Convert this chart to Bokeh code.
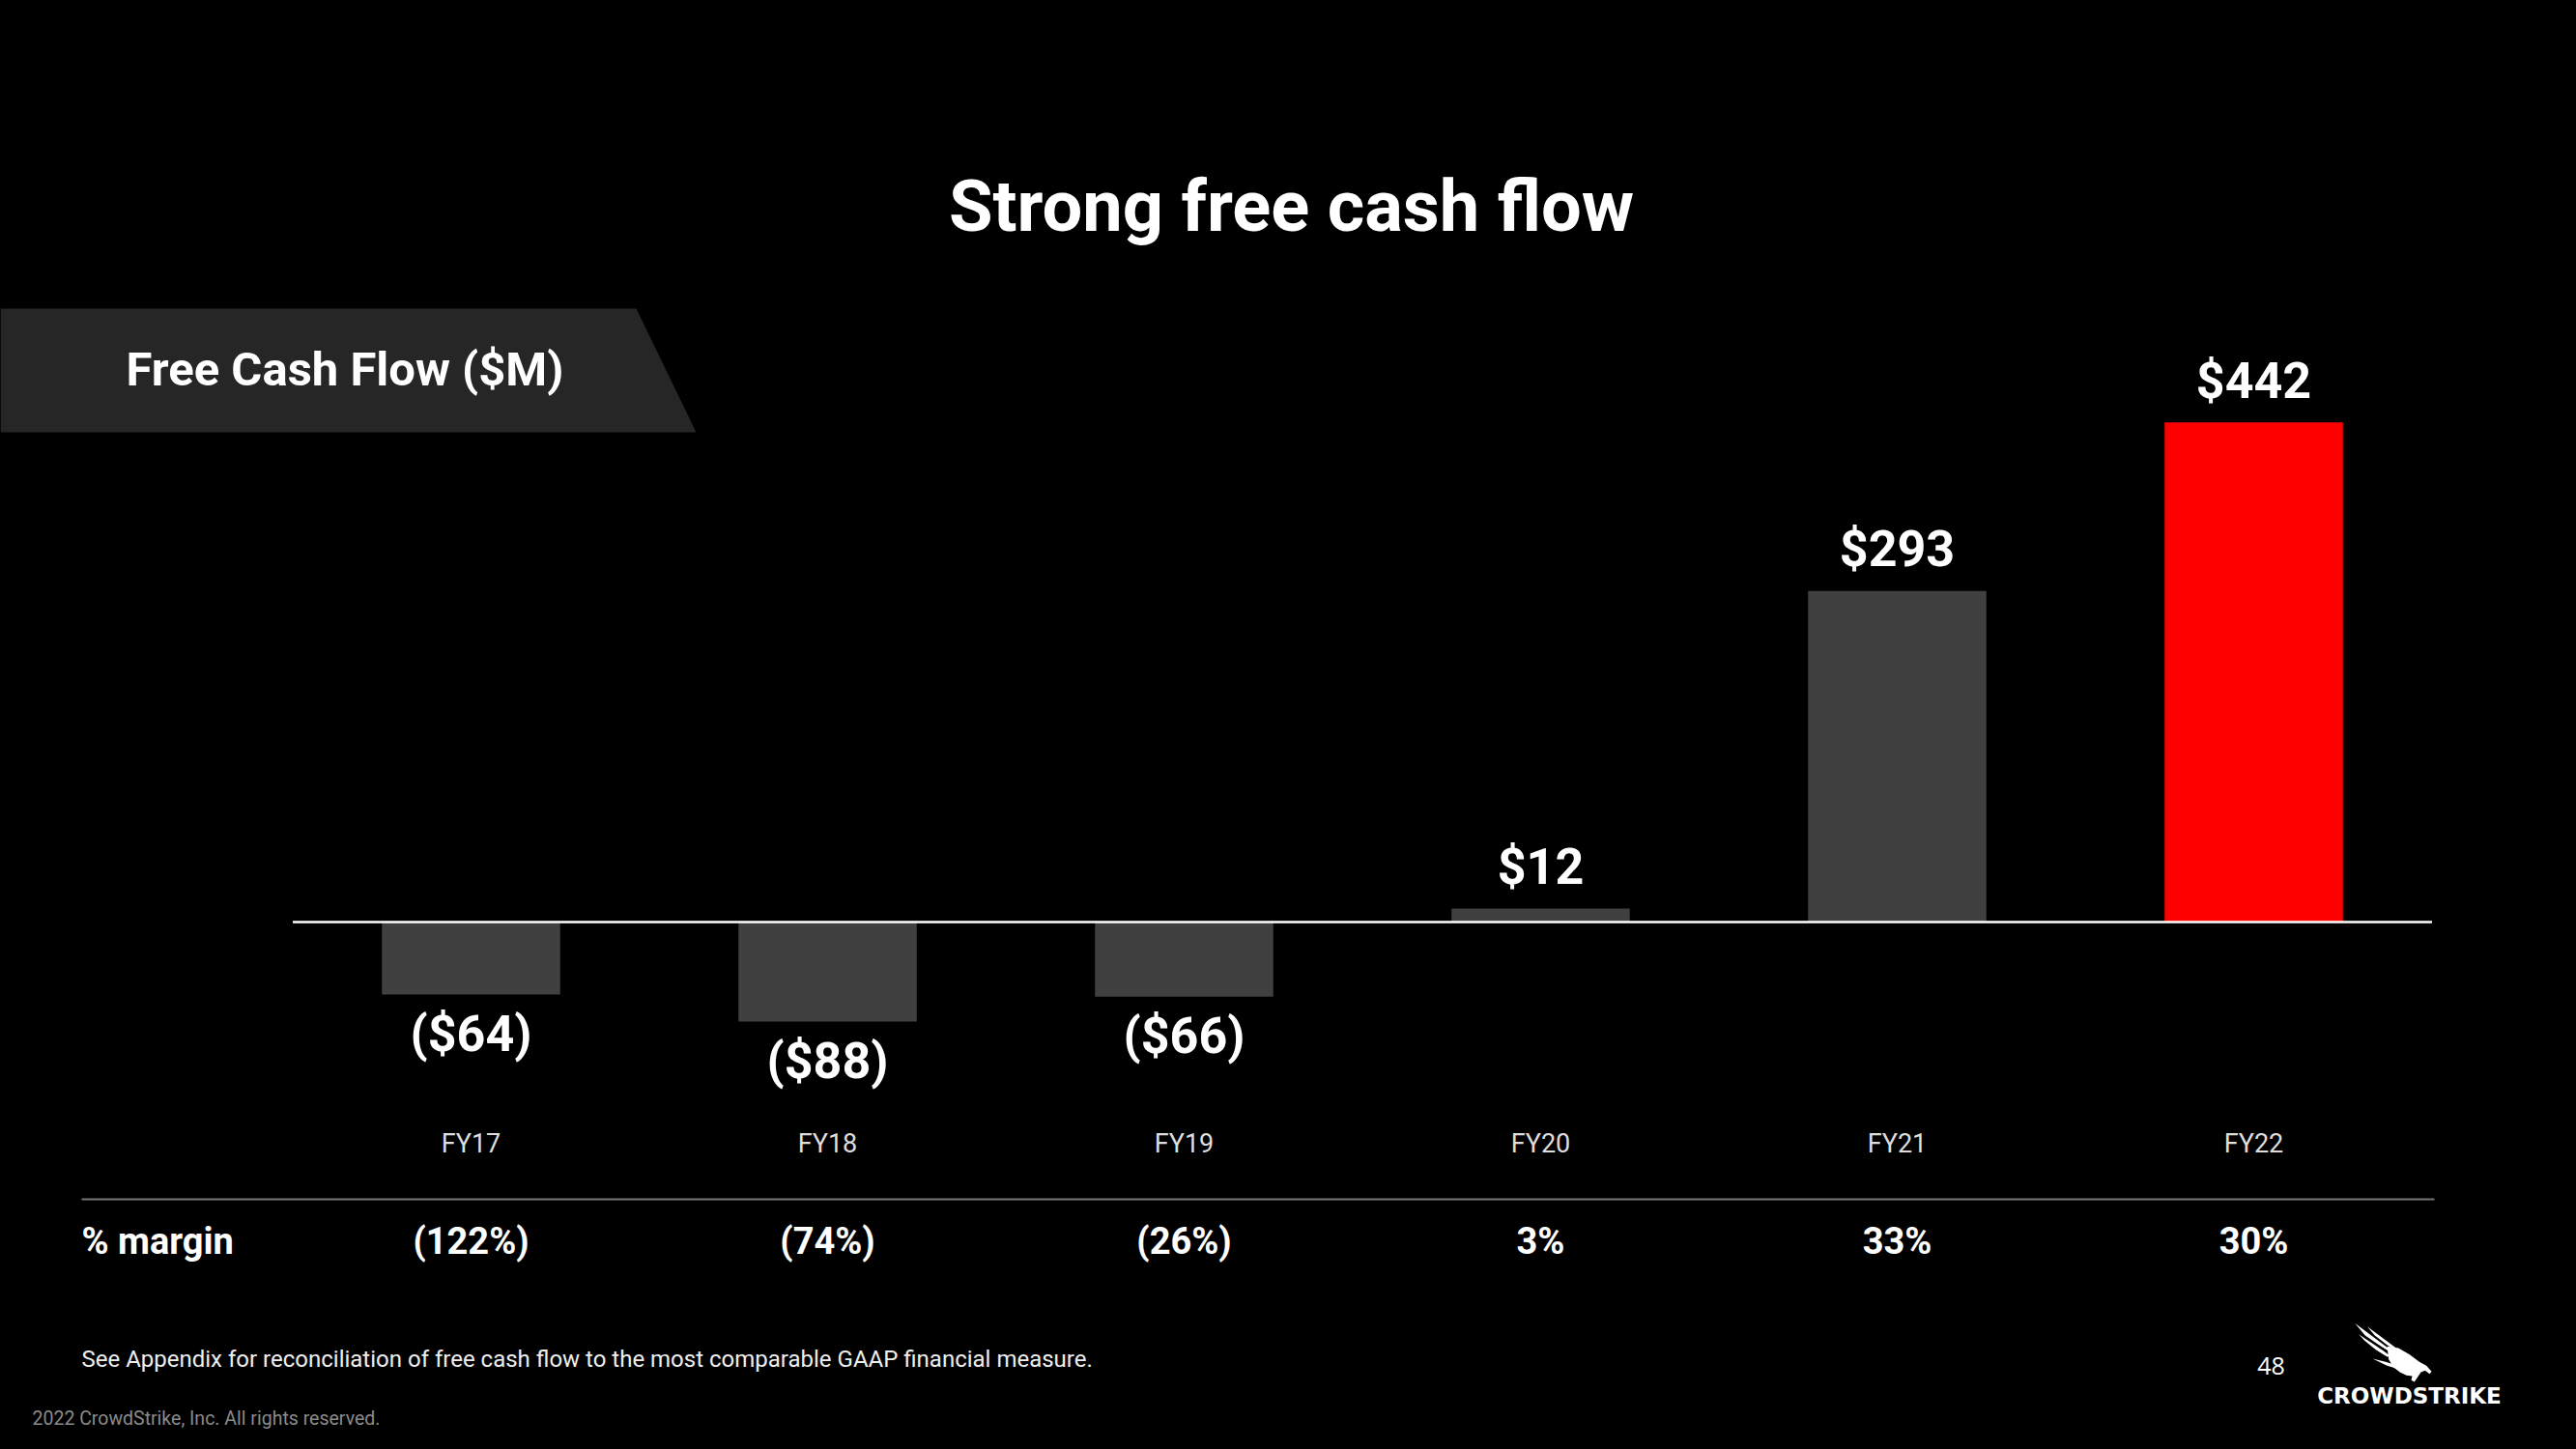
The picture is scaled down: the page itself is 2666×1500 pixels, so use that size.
from bokeh.plotting import figure
from bokeh.models import Range1d, GlobalInlineStyleSheet
from bokeh.core.properties import value
from bokeh.embed import file_html
from bokeh.resources import INLINE

# ---------------- data ----------------
categories = ["FY17", "FY18", "FY19", "FY20", "FY21", "FY22"]
fcf = [-64, -88, -66, 12, 293, 442]
fcf_labels = ["($64)", "($88)", "($66)", "$12", "$293", "$442"]
margin_labels = ["(122%)", "(74%)", "(26%)", "3%", "33%", "30%"]
highlight = "FY22"

title_text = "Strong free cash flow"
panel_text = "Free Cash Flow ($M)"
row_text = "% margin"
footnote = "See Appendix for reconciliation of free cash flow to the most comparable GAAP financial measure."
copyright_text = "2022 CrowdStrike, Inc. All rights reserved."
page_no = "48"
brand = "CROWDSTRIKE"

# ---------------- figure ----------------
W, H = 2650, 1484
BOLD = value("Roboto")
REG = value("Roboto")

p = figure(width=W, height=H, output_backend="svg", toolbar_location=None,
           x_range=Range1d(-1.3198, 5.8618), y_range=Range1d(-452.99, 815.38),
           x_axis_location=None, y_axis_location=None,
           min_border=0, background_fill_color="black", border_fill_color="black",
           outline_line_color=None)
p.grid.visible = False
p.extra_x_ranges = {"px": Range1d(0, W)}
p.extra_y_ranges = {"px": Range1d(H, 0)}
p.stylesheets = [GlobalInlineStyleSheet(
    css="html, body { margin: 0; padding: 0; background-color: #000000; }")]

idx = list(range(len(categories)))
colors = ["#ff0000" if c == highlight else "#404040" for c in categories]

# bars
p.vbar(x=idx, top=fcf, bottom=0, width=0.5, fill_color=colors, line_color=None)

# zero line
p.segment(x0=[-0.5], y0=[0], x1=[len(categories) - 0.5], y1=[0],
          line_color="white", line_width=2.5)

# value labels
pos = [i for i in idx if fcf[i] >= 0]
neg = [i for i in idx if fcf[i] < 0]
p.text(x=pos, y=[fcf[i] for i in pos], text=[fcf_labels[i] for i in pos],
       text_align="center", text_baseline="alphabetic", y_offset=-43,
       text_font=BOLD, text_font_style="bold", text_font_size="52px", text_color="white")
p.text(x=neg, y=[fcf[i] for i in neg], text=[fcf_labels[i] for i in neg],
       text_align="center", text_baseline="alphabetic", y_offset=41,
       text_font=BOLD, text_font_style="bold", text_font_size="52px", text_color="white")

# category labels
p.text(x=idx, y=[1183] * len(idx), text=categories, y_range_name="px",
       text_align="center", text_baseline="alphabetic",
       text_font=REG, text_font_size="27px", text_color="#dedede")

# separator
p.segment(x0=[84], y0=[1241], x1=[2519], y1=[1241], x_range_name="px", y_range_name="px",
          line_color="#777777", line_width=2)

# margin row
p.text(x=[84], y=[1284], text=[row_text], x_range_name="px", y_range_name="px",
       text_align="left", text_baseline="alphabetic",
       text_font=BOLD, text_font_style="bold", text_font_size="38px", text_color="white")
p.text(x=idx, y=[1284] * len(idx), text=margin_labels, y_range_name="px",
       text_align="center", text_baseline="alphabetic",
       text_font=BOLD, text_font_style="bold", text_font_size="38px", text_color="white")

# title
p.text(x=[1336], y=[213], text=[title_text], x_range_name="px", y_range_name="px",
       text_align="center", text_baseline="alphabetic",
       text_font=BOLD, text_font_style="bold", text_font_size="74px", text_color="white")

# panel
p.patch(x=[0, 658, 720, 0], y=[319, 319, 447, 447], x_range_name="px", y_range_name="px",
        fill_color="#262626", line_color=None)
p.text(x=[130], y=[382], text=[panel_text], x_range_name="px", y_range_name="px",
       text_align="left", text_baseline="alphabetic",
       text_font=BOLD, text_font_style="bold", text_font_size="49px", text_color="white")

# footnotes
p.text(x=[84], y=[1406], text=[footnote], x_range_name="px", y_range_name="px",
       text_align="left", text_baseline="alphabetic",
       text_font=REG, text_font_size="24px", text_color="#eeeeee")
p.text(x=[33], y=[1468], text=[copyright_text], x_range_name="px", y_range_name="px",
       text_align="left", text_baseline="alphabetic",
       text_font=REG, text_font_size="19.5px", text_color="#8a8a8a")
p.text(x=[2350], y=[1413], text=[page_no], x_range_name="px", y_range_name="px",
       text_align="center", text_baseline="alphabetic",
       text_font=value("Open Sans"), text_font_size="25px", text_color="white")

# logo
p.text(x=[2493], y=[1444], text=[brand], x_range_name="px", y_range_name="px",
       text_align="center", text_baseline="alphabetic",
       text_font=value("DejaVu Sans"), text_font_style="bold", text_font_size="23px",
       text_color="white")
falcon = [
    [(50, 28), (90, 58), (130, 88), (160, 110), (150, 112), (120, 92), (82, 66)],
    [(88, 38), (125, 65), (165, 95), (185, 110), (175, 112), (150, 95), (112, 66)],
    [(62, 62), (100, 88), (140, 115), (160, 130), (150, 132), (115, 110), (80, 82)],
    [(105, 138), (145, 148), (185, 160), (200, 168), (185, 170), (150, 160)],
    [(150, 100), (185, 105), (220, 125), (250, 148), (272, 160), (288, 178), (282, 185),
     (268, 175), (255, 180), (245, 195), (235, 210), (225, 205), (228, 192), (210, 190),
     (190, 180), (170, 165), (155, 140)],
]
p.patches(xs=[[2420 + a / 3 for a, b in poly] for poly in falcon],
          ys=[[1360 + b / 3 for a, b in poly] for poly in falcon],
          x_range_name="px", y_range_name="px", fill_color="white", line_color=None)

open("out.html", "w").write(file_html(p, INLINE))
